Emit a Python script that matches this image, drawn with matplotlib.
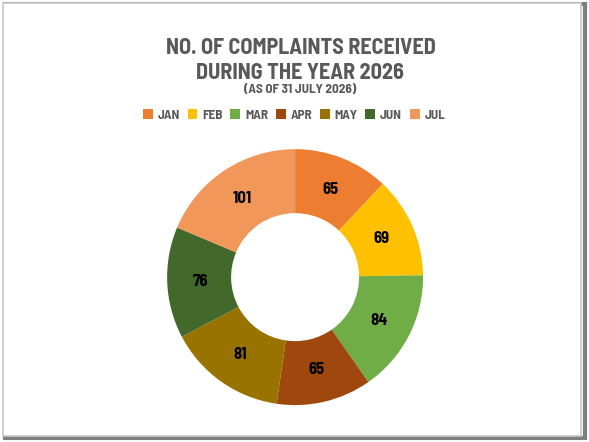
import matplotlib.pyplot as plt
from matplotlib.patches import Rectangle

# complaint counts per month
months = ['JAN', 'FEB', 'MAR', 'APR', 'MAY', 'JUN', 'JUL']
complaints = [65, 69, 84, 65, 81, 76, 101]
colors = ['#ED7D31', '#FFC000', '#70AD47', '#9E480E', '#997300', '#43682B', '#F1975A']

title_font = ['Barlow Semi Condensed', 'DejaVu Sans']
text_grey = '#595959'

fig = plt.figure(figsize=(5.89, 4.42), dpi=100)
fig.patch.set_facecolor('white')

# frame with shadow
fig.patches.append(Rectangle((5 / 589, 4 / 442), 580 / 589, 434 / 442, transform=fig.transFigure,
                             fill=False, edgecolor='#7f7f7f', linewidth=3, zorder=-2))
fig.patches.append(Rectangle((3 / 589, 6 / 442), 578 / 589, 433 / 442, transform=fig.transFigure,
                             facecolor='white', edgecolor='#c8c8c8', linewidth=1.2, zorder=-1))

fig.text(0.51, 0.891, 'NO. OF COMPLAINTS RECEIVED', ha='center', va='center',
         fontsize=16, fontweight='bold', color=text_grey, family=title_font)
fig.text(0.51, 0.834, 'DURING THE YEAR 2026', ha='center', va='center',
         fontsize=16, fontweight='bold', color=text_grey, family=title_font)
fig.text(0.51, 0.797, '(AS OF 31 JULY 2026)', ha='center', va='center',
         fontsize=9.5, fontweight='bold', color=text_grey, family=title_font)

ax = fig.add_axes([0.2725, 0.069, 0.457, 0.608])
wedges, texts = ax.pie(complaints, colors=colors, startangle=90, counterclock=False,
                       labels=[str(v) for v in complaints], labeldistance=0.74,
                       radius=1.0, wedgeprops=dict(width=0.5, linewidth=0))
for t in texts:
    t.set_ha('center')
    t.set_va('center')
    t.set_fontsize(12)
    t.set_fontweight('bold')
    t.set_family(title_font)
    t.set_color('black')
ax.set_xlim(-1.05, 1.05)
ax.set_ylim(-1.05, 1.05)
ax.set_aspect('equal')
ax.axis('off')

handles = [Rectangle((0, 0), 1, 1, facecolor=c) for c in colors]
fig.legend(handles, months, loc='center', bbox_to_anchor=(0.499, 0.740), ncol=7,
           frameon=False, handlelength=0.75, handleheight=0.75, handletextpad=0.35,
           columnspacing=0.6, prop=dict(family=title_font, weight='bold', size=9.5),
           labelcolor=text_grey)

fig.savefig('out.png', dpi=100)
